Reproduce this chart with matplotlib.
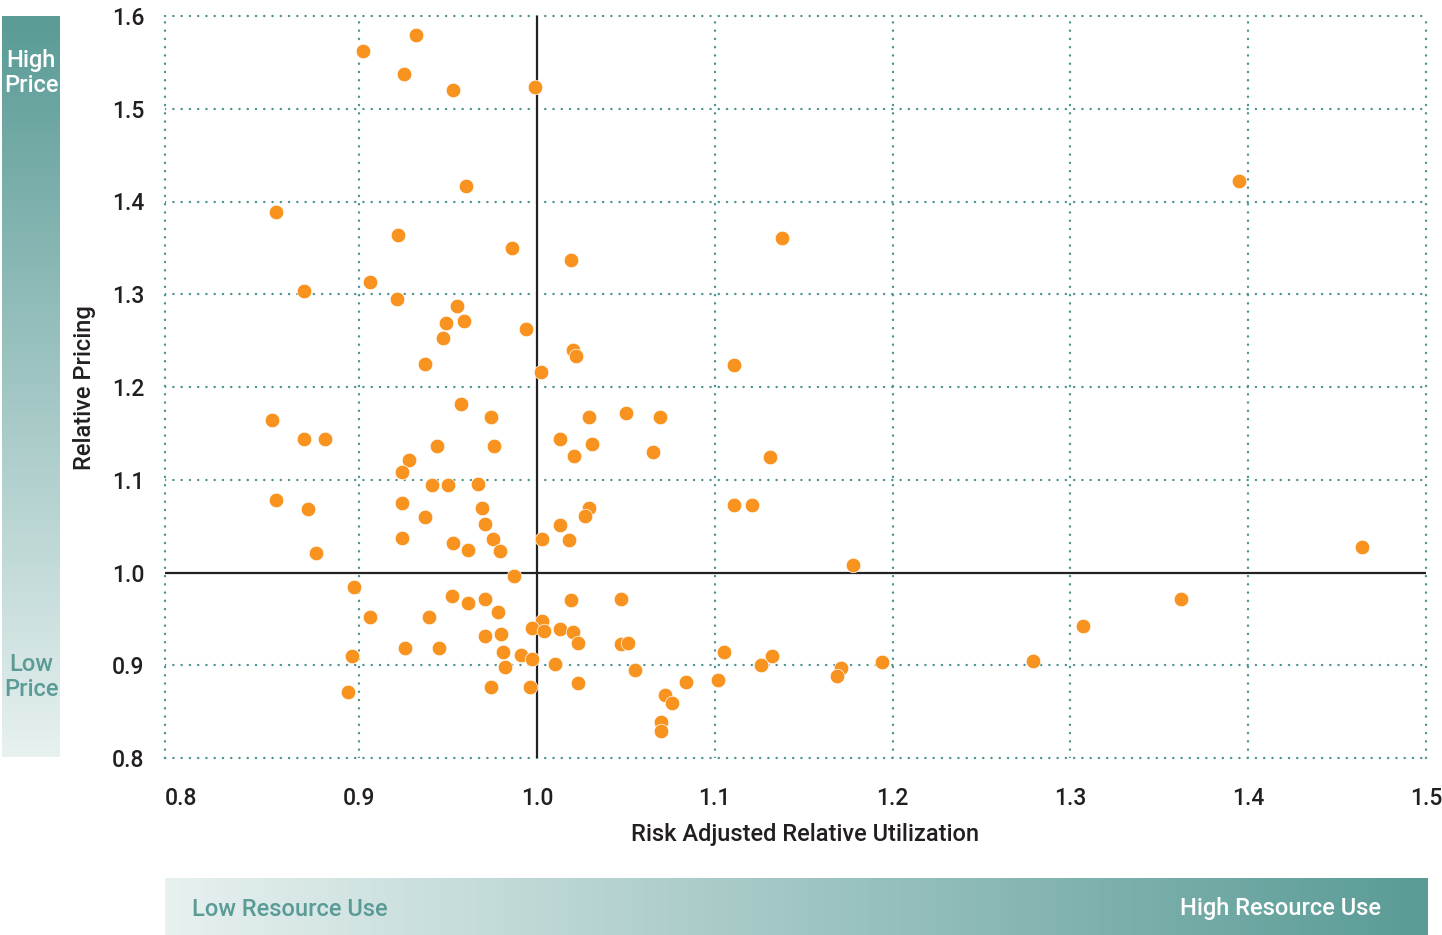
import matplotlib
matplotlib.use('Agg')
import matplotlib.pyplot as plt
import numpy as np
from matplotlib.colors import LinearSegmentedColormap

plt.rcParams['font.family'] = ['Roboto', 'DejaVu Sans']

# risk adjusted relative utilization (x) vs relative pricing (y), one dot per provider
utilization = [
    0.902, 0.932, 0.925, 0.953, 0.999, 0.960, 0.853, 0.922, 0.986, 0.906,
    0.869, 0.921, 0.955, 0.949, 0.959, 0.994, 0.947, 0.937, 1.002, 0.957,
    0.974, 0.851, 0.869, 0.881, 1.013, 0.944, 0.976, 0.928, 0.924, 0.941,
    0.950, 0.967, 0.853, 0.924, 0.871, 0.969, 0.937, 1.013, 0.971, 0.924,
    0.953, 0.975, 1.003, 0.961, 0.979, 0.876, 0.987, 0.897, 0.952, 0.961,
    0.971, 0.978, 0.906, 0.939, 1.003, 0.997, 1.004, 1.013, 0.971, 0.980,
    0.926, 0.945, 0.896, 0.981, 0.991, 0.997, 1.010, 0.982, 0.894, 0.974,
    0.996, 1.019, 1.138, 1.020, 1.022, 1.111, 1.029, 1.050, 1.069, 1.031,
    1.021, 1.065, 1.131, 1.111, 1.121, 1.029, 1.027, 1.018, 1.178, 1.019,
    1.047, 1.020, 1.023, 1.047, 1.051, 1.055, 1.105, 1.132, 1.126, 1.171,
    1.169, 1.194, 1.023, 1.084, 1.102, 1.072, 1.076, 1.070, 1.070, 1.395,
    1.464, 1.362, 1.307, 1.279,
]
pricing = [
    1.562, 1.580, 1.538, 1.520, 1.523, 1.417, 1.389, 1.364, 1.350, 1.313,
    1.304, 1.295, 1.287, 1.269, 1.271, 1.262, 1.253, 1.225, 1.216, 1.182,
    1.168, 1.164, 1.144, 1.144, 1.144, 1.136, 1.136, 1.121, 1.108, 1.094,
    1.094, 1.095, 1.078, 1.075, 1.069, 1.070, 1.060, 1.051, 1.052, 1.037,
    1.032, 1.036, 1.036, 1.024, 1.023, 1.021, 0.996, 0.984, 0.975, 0.967,
    0.971, 0.957, 0.952, 0.952, 0.948, 0.940, 0.937, 0.939, 0.932, 0.934,
    0.919, 0.919, 0.910, 0.914, 0.911, 0.907, 0.901, 0.898, 0.871, 0.877,
    0.877, 1.337, 1.361, 1.240, 1.233, 1.224, 1.168, 1.172, 1.168, 1.139,
    1.126, 1.130, 1.125, 1.073, 1.073, 1.070, 1.061, 1.035, 1.008, 0.970,
    0.971, 0.936, 0.924, 0.923, 0.924, 0.895, 0.914, 0.910, 0.900, 0.897,
    0.888, 0.904, 0.881, 0.882, 0.884, 0.868, 0.859, 0.839, 0.829, 1.422,
    1.027, 0.971, 0.942, 0.905,
]

x_ticks = [0.8, 0.9, 1.0, 1.1, 1.2, 1.3, 1.4, 1.5]
x_labels = ['0.8', '0.9', '1.0', '1.1', '1.2', '1.3', '1.4', '1.5']
y_ticks = [0.8, 0.9, 1.0, 1.1, 1.2, 1.3, 1.4, 1.5, 1.6]
y_labels = ['0.8', '0.9', '1.0', '1.1', '1.2', '1.3', '1.4', '1.5', '1.6']

W, H = 1442, 935
teal = '#5a9b96'
teal_light = '#e7f1f0'
grid_c = '#4a9491'
ink = '#231f20'
orange = '#f7931e'

fig = plt.figure(figsize=(W / 100, H / 100), dpi=100)
ax = fig.add_axes([165 / W, 1 - 758 / H, (1426 - 165) / W, (758 - 16) / H])
ax.set_xlim(0.7908, 1.5)
ax.set_ylim(0.8, 1.6)

dotted = dict(color=grid_c, lw=1.7, ls=(0, (0.1, 3.4)), dash_capstyle='round', zorder=1)
for xv in [0.9, 1.1, 1.2, 1.3, 1.4]:
    ax.axvline(xv, **dotted)
for yv in [0.9, 1.1, 1.2, 1.3, 1.4, 1.5]:
    ax.axhline(yv, **dotted)
# dotted frame
ax.axvline(0.7908, clip_on=False, **dotted)
ax.axvline(1.5, clip_on=False, **dotted)
ax.axhline(1.6, clip_on=False, **dotted)
ax.axhline(0.8, clip_on=False, **dotted)
for s in ax.spines.values():
    s.set_visible(False)

ax.axhline(1.0, color='#222222', lw=1.6, zorder=2)
ax.axvline(1.0, color='#222222', lw=1.6, zorder=2)

ax.scatter(utilization, pricing, s=110, color=orange, edgecolors='white',
           linewidths=0.5, zorder=3)

ax.set_xticks(x_ticks, x_labels)
ax.set_yticks(y_ticks, y_labels)
ax.tick_params(axis='x', length=0, pad=21, labelsize=16.5, labelcolor=ink)
ax.tick_params(axis='y', length=0, pad=15, labelsize=16.5, labelcolor=ink)
for lab in ax.get_xticklabels() + ax.get_yticklabels():
    lab.set_fontweight('medium')

fig.text(805 / W, 1 - 835 / H, 'Risk Adjusted Relative Utilization',
         ha='center', va='center', fontsize=17, color=ink, fontweight='medium')
fig.text(85 / W, 1 - 388 / H, 'Relative Pricing', rotation=90,
         ha='center', va='center', fontsize=17, color=ink, fontweight='medium')

# gradient side bars
cmap = LinearSegmentedColormap.from_list('teal', [teal_light, teal])
grad = np.linspace(0, 1, 256)

lax = fig.add_axes([2 / W, 1 - 757 / H, 58 / W, 741 / H])
lax.imshow(grad.reshape(-1, 1), aspect='auto', cmap=cmap, origin='lower')
lax.axis('off')

bax = fig.add_axes([165 / W, 0, 1263 / W, 57 / H])
bax.imshow(grad.reshape(1, -1), aspect='auto', cmap=cmap)
bax.axis('off')

fig.text(31 / W, 1 - 73 / H, 'High\nPrice', ha='center', va='center',
         fontsize=17, color='white', linespacing=1.1, fontweight='medium')
fig.text(31 / W, 1 - 677 / H, 'Low\nPrice', ha='center', va='center',
         fontsize=17, color=teal, linespacing=1.1, fontweight='medium')
fig.text(192 / W, 1 - 909 / H, 'Low Resource Use', ha='left', va='center',
         fontsize=17, color=teal, fontweight='medium')
fig.text(1381 / W, 1 - 909 / H, 'High Resource Use', ha='right', va='center',
         fontsize=17, color='white', fontweight='medium')

fig.savefig('out.png', dpi=100)
